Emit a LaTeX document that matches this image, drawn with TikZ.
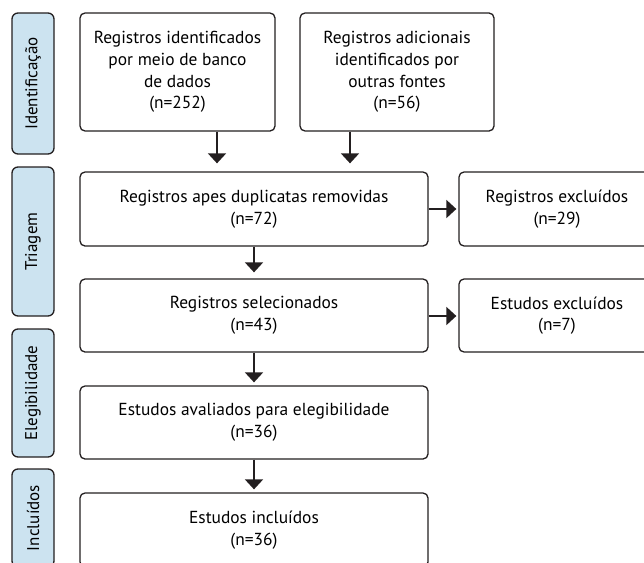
\documentclass[tikz,border=0pt]{standalone}
\usepackage{fontspec}
\setmainfont{PT Sans}
\usetikzlibrary{arrows.meta}
\definecolor{labelblue}{RGB}{204,227,240}
\definecolor{ink}{RGB}{35,31,32}
\tikzset{
  box/.style={draw=ink, line width=1.3pt, rounded corners=5pt, fill=white,
    align=center, inner sep=0pt, font=\fontsize{17.4}{21.7}\selectfont},
  stage/.style={draw=ink, line width=1.3pt, rounded corners=6pt, fill=labelblue,
    align=center, inner sep=0pt, minimum width=42pt, rotate=90,
    font=\fontsize{17}{20}\selectfont},
  flow/.style={draw=ink, line width=1.8pt, -{Triangle[width=18pt,length=10pt]}},
}
\begin{document}
\begin{tikzpicture}[x=1pt,y=-1pt]
\useasboundingbox (0,0) rectangle (644,562);
\clip (0,0) rectangle (644,562);
% stage labels (rotated: minimum height = horizontal width)
\node[stage, minimum width=141pt, minimum height=42pt] (sid) at (33,83.5) {Identificação};
\node[stage, minimum width=149pt, minimum height=42pt] (stri) at (33,241.5) {Triagem};
\node[stage, minimum width=128pt, minimum height=42pt] (sele) at (33,393) {Elegibilidade};
\node[stage, minimum width=98pt, minimum height=42pt] (sinc) at (33,518) {Incluídos};
% boxes
\node[box, minimum width=195pt, minimum height=118pt] (b1) at (177.5,72)
  {Registros identificados\\por meio de banco\\de dados\\(n=252)};
\node[box, minimum width=194pt, minimum height=118pt] (b2) at (397,72)
  {Registros adicionais\\identificados por\\outras fontes\\(n=56)};
\node[box, minimum width=348pt, minimum height=74pt] (b3) at (254,209)
  {Registros apes duplicatas removidas\\(n=72)};
\node[box, minimum width=348pt, minimum height=73pt] (b4) at (254,315.5)
  {Registros selecionados\\(n=43)};
\node[box, minimum width=348pt, minimum height=73pt] (b5) at (254,422.5)
  {Estudos avaliados para elegibilidade\\(n=36)};
\node[box, minimum width=348pt, minimum height=74pt] (b6) at (254,530)
  {Estudos incluídos\\(n=36)};
\node[box, minimum width=196pt, minimum height=74pt] (r1) at (557,209)
  {Registros excluídos\\(n=29)};
\node[box, minimum width=196pt, minimum height=73pt] (r2) at (557,315.5)
  {Estudos excluídos\\(n=7)};
% connectors
\coordinate (ca) at (217,0);
\coordinate (cb) at (350,0);
\draw[flow, shorten >=8pt] (b1.south -| ca) -- (b3.north -| ca);
\draw[flow, shorten >=8pt] (b2.south -| cb) -- (b3.north -| cb);
\draw[flow, shorten >=6pt] (b3) -- (b4);
\draw[flow, shorten >=3pt] (b4) -- (b5);
\draw[flow, shorten >=3pt] (b5) -- (b6);
\draw[flow, shorten >=2pt] (b3) -- (r1);
\draw[flow, shorten >=2pt] (b4.east |- 0,316) -- (r2.west |- 0,316);
\end{tikzpicture}
\end{document}
